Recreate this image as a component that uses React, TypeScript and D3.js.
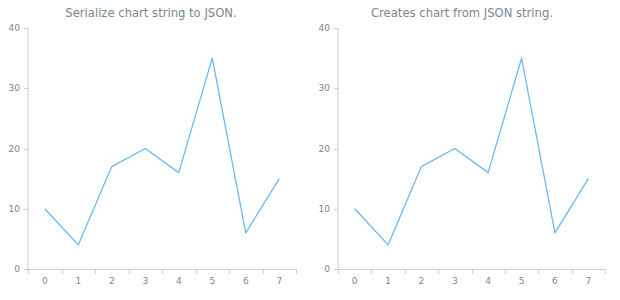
import React from "react";
import * as d3 from "d3";

const categories = ["0", "1", "2", "3", "4", "5", "6", "7"];
const values = [10, 4, 17, 20, 16, 35, 6, 15];
const yTicks = [0, 10, 20, 30, 40];
const titles = ["Serialize chart string to JSON.", "Creates chart from JSON string."];

const W = 620;
const H = 300;
const axisColor = "#cecece";
const textColor = "#7c868e";
const lineColor = "#6cb8f6";
const font = "'DejaVu Sans', Verdana, sans-serif";

function Chart({ title, left, right, titleX }: { title: string; left: number; right: number; titleX: number }) {
  const top = 28;
  const bottom = 269;
  const x = d3.scaleBand<string>().domain(categories).range([left, right]);
  const y = d3.scaleLinear().domain([0, 40]).range([bottom, top]);
  const line = d3
    .line<number>()
    .x((_, i) => (x(categories[i]) as number) + x.bandwidth() / 2)
    .y((d) => y(d));
  const boundaries = categories.map((c) => x(c) as number).concat([right]);

  return (
    <g>
      <text x={titleX} y={17} textAnchor="middle" fontSize={11.6} fill={textColor} fontFamily={font}>
        {title}
      </text>
      <line x1={left} x2={left} y1={top} y2={bottom} stroke={axisColor} />
      {yTicks.map((t) => (
        <g key={t}>
          <line x1={left - 4} x2={left} y1={Math.round(y(t)) + 0.5} y2={Math.round(y(t)) + 0.5} stroke={axisColor} />
          <text
            x={left - 8}
            y={y(t)}
            dy="0.35em"
            textAnchor="end"
            fontSize={9}
            fill={textColor}
            fontFamily={font}
          >
            {t}
          </text>
        </g>
      ))}
      <line x1={left} x2={right} y1={bottom + 0.5} y2={bottom + 0.5} stroke={axisColor} />
      {boundaries.map((b, i) => (
        <line key={i} x1={Math.round(b) + 0.5} x2={Math.round(b) + 0.5} y1={bottom} y2={bottom + 5} stroke={axisColor} />
      ))}
      {categories.map((c) => (
        <text
          key={c}
          x={(x(c) as number) + x.bandwidth() / 2}
          y={284}
          textAnchor="middle"
          fontSize={9}
          fill={textColor}
          fontFamily={font}
        >
          {c}
        </text>
      ))}
      <path d={line(values) || ""} fill="none" stroke={lineColor} strokeWidth={1.3} strokeLinejoin="round" />
    </g>
  );
}

export default function App() {
  return (
    <svg width={W} height={H} style={{ position: "absolute", left: 0, top: 0, background: "#fff" }}>
      <Chart title={titles[0]} left={28} right={296} titleX={151} />
      <Chart title={titles[1]} left={338} right={605} titleX={462} />
    </svg>
  );
}
